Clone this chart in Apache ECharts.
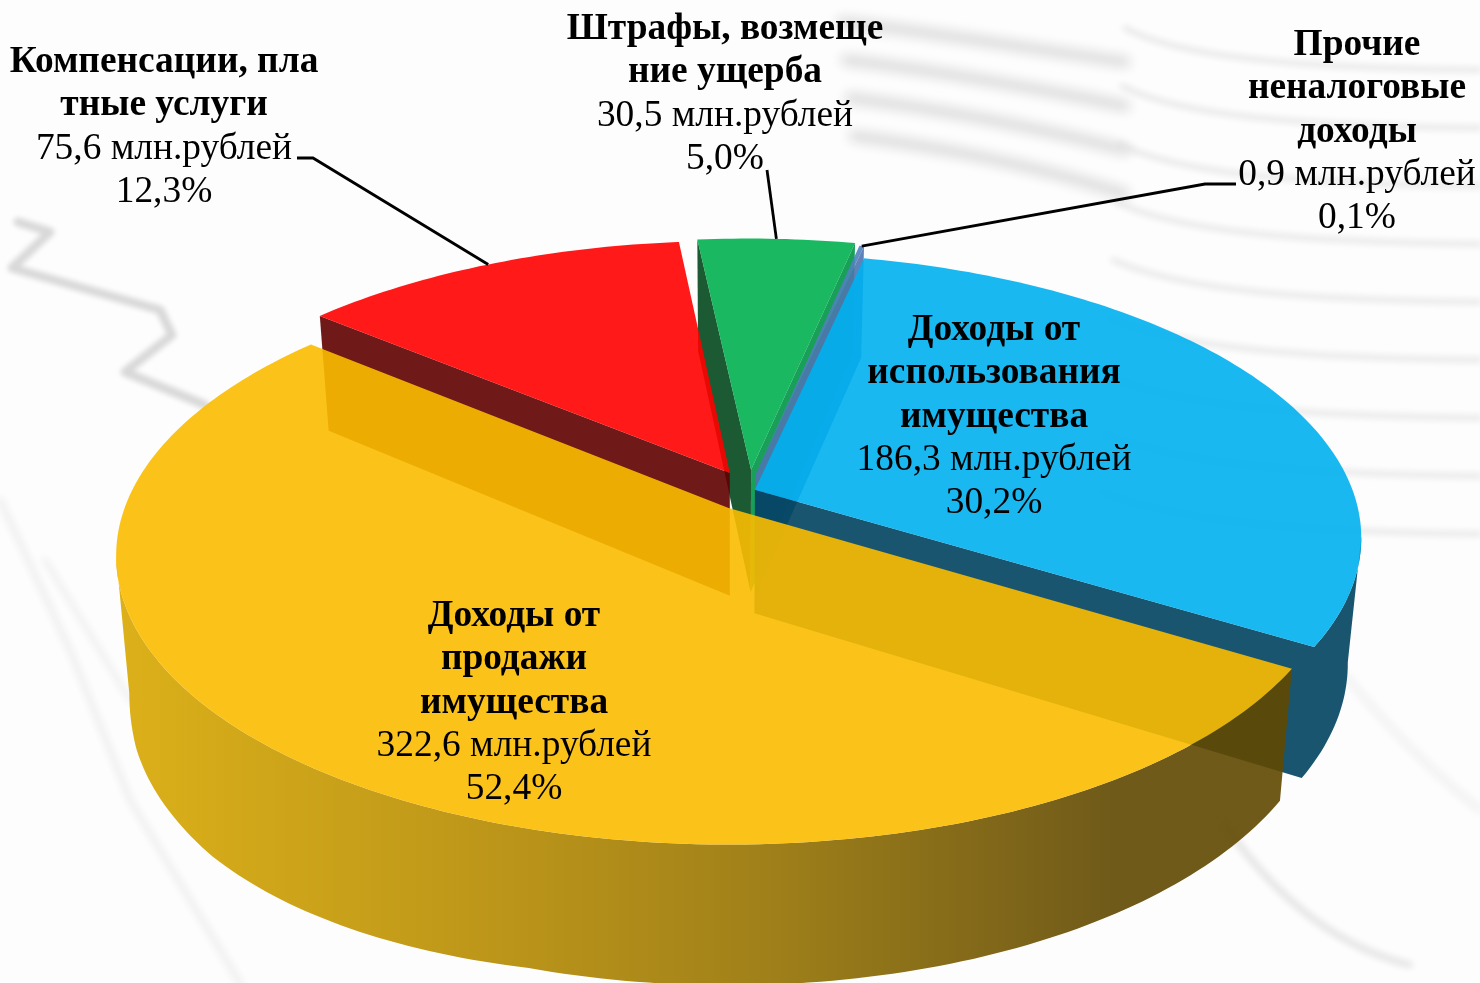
<!DOCTYPE html>
<html>
<head>
<meta charset="utf-8">
<style>html,body{margin:0;padding:0;background:#fdfdfd}#c{width:1480px;height:983px}</style>
<script src="https://cdn.jsdelivr.net/npm/echarts@6/dist/echarts.min.js"></script>
</head>
<body>
<div id="c"></div>
<script>
// ---- data, in clockwise order ----
var categories = ['Доходы от\nпродажи\nимущества', 'Компенсации, пла\nтные услуги', 'Штрафы, возмеще\nние ущерба', 'Прочие\nненалоговые\nдоходы', 'Доходы от\nиспользования\nимущества'];
var amounts = [322.6, 75.6, 30.5, 0.9, 186.3];
var amountLabels = ['322,6 млн.рублей', '75,6 млн.рублей', '30,5 млн.рублей', '0,9 млн.рублей', '186,3 млн.рублей'];
var percentLabels = ['52,4%', '12,3%', '5,0%', '0,1%', '30,2%'];

// ---- perspective disc projection ----
var CX = 731, CY = 508, R = 604, B = 281, K = 0.165, START = 31.5;
var total = amounts.reduce(function (a, b) { return a + b; }, 0);
var drawOrder = [2, 3, 1, 4, 0];
var explode = [[-0.004, 0], [-0.002, -0.127], [0.034, -0.139], [0.042, -0.125], [0.04, -0.0652]];
var colors = ['rgba(251,189,0,0.9)', 'rgba(255,0,0,0.9)', 'rgba(0,176,80,0.9)', 'rgba(79,129,189,0.9)', 'rgba(0,176,240,0.9)'];
var blueWall = 'rgba(0,66,95,0.9)';
var startWall = [null, 'rgba(96,0,0,0.9)', 'rgba(2,72,28,0.9)', null, null];
var endWall = [null, null, 'rgba(0,150,70,0.9)', 'rgba(78,116,176,0.9)', blueWall];
var outerWall = [
  new echarts.graphic.LinearGradient(0, 0, 1, 0, [
    { offset: 0, color: 'rgba(216,168,0,0.9)' }, { offset: 0.35, color: 'rgba(178,136,0,0.9)' },
    { offset: 0.55, color: 'rgba(150,115,0,0.9)' }, { offset: 0.85, color: 'rgba(96,72,0,0.9)' },
    { offset: 1, color: 'rgba(96,72,0,0.9)' }]),
  'rgba(96,0,0,0.9)', 'rgba(2,72,28,0.9)', 'rgba(78,116,176,0.9)', blueWall];
var labelPos = [[514, 595], [164, 41], [725, 8], [1357, 24], [994, 309]];
var leaderStart = [null, [[297, 158], [313, 158]], [[767, 170]], [[1236, 184], [1205, 184]], null];

function rad(d) { return d * Math.PI / 180; }
function clamp01(t) { return Math.max(0, Math.min(1, t)); }
function project(u, v) {
  var d = 1 - K * v;
  return [CX + R * u / d, CY + B * v / d];
}
function drop(p) { // bottom-plane point under a top-plane point
  var sag = 20 * clamp01((520 - p[0]) / 320) * clamp01((p[1] - 500) / 100);
  return [p[0] + 0.0214 * (732 - p[0]), p[1] + 115 + 0.049 * (p[1] - 318) + sag];
}
function rim(i, deg) {
  var e = explode[i];
  return project(e[0] + Math.cos(rad(deg)), e[1] + Math.sin(rad(deg)));
}
function range(i) {
  var before = 0;
  for (var n = 0; n < i; n++) before += amounts[n];
  return [START + before / total * 360, START + (before + amounts[i]) / total * 360];
}
function arc(i, a, b) {
  var pts = [], step = 1;
  for (var d = a; d < b; d += step) pts.push(rim(i, d));
  pts.push(rim(i, b));
  return pts;
}
function poly(points, fill) {
  return { type: 'polygon', shape: { points: points }, style: { fill: fill } };
}
function renderSlice(params, api) {
  var i = api.value(0), r = range(i), kids = [];
  var e = explode[i], apex = project(e[0], e[1]);
  var lim = Math.asin(K) * 180 / Math.PI;
  var showEnd = endWall[i] && Math.cos(rad(r[1])) > 0;
  var showStart = startWall[i] && Math.cos(rad(r[0])) < 0;
  var merged = false;
  // outer wall: the part that faces the viewer
  [[lim, 180 - lim], [360 + lim, 540 - lim]].forEach(function (w) {
    var a = Math.max(r[0], w[0]), b = Math.min(r[1], w[1]);
    if (b > a) {
      var top = arc(i, a, b), low = top.map(drop);
      if (showEnd && b === r[1] && outerWall[i] === endWall[i]) {
        // one outline for the rim and the cut face, so no seam shows between them
        kids.push(poly([apex].concat(top.slice().reverse(), low, [drop(apex)]), outerWall[i]));
        merged = true;
      } else {
        kids.push(poly(top.concat(low.slice().reverse()), outerWall[i]));
      }
    }
  });
  if (showStart) {
    var ps = rim(i, r[0]);
    kids.push(poly([apex, ps, drop(ps), drop(apex)], startWall[i]));
  }
  if (showEnd && !merged) {
    var pe = rim(i, r[1]);
    kids.push(poly([apex, pe, drop(pe), drop(apex)], endWall[i]));
  }
  kids.push(poly([apex].concat(arc(i, r[0], r[1])), colors[i]));
  return { type: 'group', children: kids };
}
function renderLabel(params, api) {
  var i = api.value(0), kids = [];
  if (leaderStart[i]) {
    var r = range(i);
    kids.push({
      type: 'polyline',
      shape: { points: leaderStart[i].concat([rim(i, (r[0] + r[1]) / 2)]) },
      style: { stroke: '#000', lineWidth: 2.8, fill: null }
    });
  }
  var bold = categories[i].split('\n').map(function (s) { return '{b|' + s + '}'; }).join('\n');
  kids.push({
    type: 'text',
    x: labelPos[i][0], y: labelPos[i][1],
    style: {
      text: bold + '\n{r|' + amountLabels[i] + '}\n{r|' + percentLabels[i] + '}',
      align: 'center', verticalAlign: 'top',
      rich: {
        b: { fontFamily: 'Liberation Serif', fontWeight: 'bold', fontSize: 37.4, lineHeight: 43.2, fill: '#000', align: 'center' },
        r: { fontFamily: 'Liberation Serif', fontWeight: 'normal', fontSize: 37.4, lineHeight: 43.2, fill: '#000', align: 'center' }
      }
    }
  });
  return { type: 'group', children: kids };
}

// ---- faint blurred backdrop: the strokes sit off-canvas, only their blurred shadows show ----
var OFF = 3000;
function softStyle(color, width, blur) {
  return { fill: null, stroke: color, lineWidth: width, shadowBlur: blur, shadowColor: color, shadowOffsetX: OFF, lineCap: 'round', lineJoin: 'round' };
}
function softLine(points, color, width, blur) {
  return { type: 'polyline', silent: true, z: -5, x: -OFF, shape: { points: points }, style: softStyle(color, width, blur) };
}
function softCurve(c, color, width, blur) {
  return { type: 'bezierCurve', silent: true, z: -5, x: -OFF,
    shape: { x1: c[0], y1: c[1], cpx1: c[2], cpy1: c[3], cpx2: c[4], cpy2: c[5], x2: c[6], y2: c[7] },
    style: softStyle(color, width, blur) };
}
var backdrop = [
  softLine([[18, 222], [50, 232], [12, 268], [160, 310], [172, 335], [125, 372], [205, 405]], '#d9d9d9', 9, 5),
  softLine([[0, 500], [70, 650], [130, 800], [240, 983]], '#f0f0f0', 7, 7),
  softLine([[45, 560], [130, 700]], '#f0f0f0', 6, 7),
  softCurve([1225, 825, 1270, 890, 1330, 945, 1410, 965], '#dcdcdc', 5, 7),
  softCurve([1345, 675, 1390, 730, 1430, 770, 1480, 810], '#ececec', 5, 8)
];
for (var s = 0; s < 9; s++) {
  var y0 = 28 + s * 58;
  backdrop.push(softCurve([1125 - s * 3, y0, 1180, y0 + 30, 1300, y0 + 40, 1480, y0 + 42], '#e6e6e6', 5, 6));
}
for (var t = 0; t < 4; t++) {
  var y1 = 22 + t * 38;
  backdrop.push(softCurve([842 + t * 4, y1, 930, y1 + 10, 1020, y1 + 25, 1125, y1 + 40 + t * 6], '#dcdcdc', 11, 12));
}

var chart = echarts.init(document.getElementById('c'), null, { renderer: 'canvas' });
chart.setOption({
  animation: false,
  backgroundColor: '#fdfdfd',
  graphic: { elements: backdrop },
  series: [
    { type: 'custom', coordinateSystem: 'none', silent: true, z: 2, clip: false,
      renderItem: renderSlice, data: drawOrder.map(function (i) { return [i, amounts[i]]; }) },
    { type: 'custom', coordinateSystem: 'none', silent: true, z: 3, clip: false,
      renderItem: renderLabel, data: drawOrder.map(function (i) { return [i, amounts[i]]; }) }
  ]
});
</script>
</body>
</html>
